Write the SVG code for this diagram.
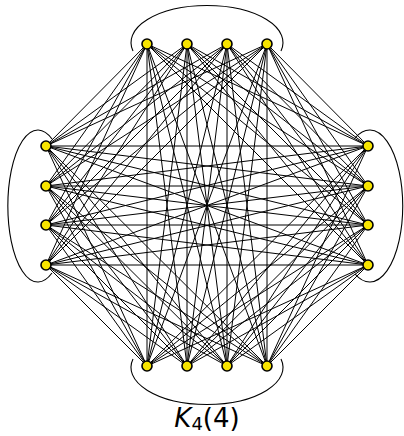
<svg xmlns="http://www.w3.org/2000/svg" width="404" height="436" viewBox="0 0 404 436">
<style>
.hull{fill:none;stroke:#000;stroke-width:1.1}
.e line{stroke:#000;stroke-width:1}
.n circle{fill:#f7e400;stroke:#000;stroke-width:1.6}
.lbl{font-family:"DejaVu Sans",sans-serif;font-size:26px;fill:#000}
</style>
<rect width="404" height="436" fill="#fff"/>
<g id="group-outlines">
<path class="hull" d="M133,51 A76,37 0 1 1 281,51"/>
<path class="hull" d="M133,359 A76,37 0 1 0 281,359"/>
<path class="hull" d="M52,139 A30,76 0 1 0 52,273"/>
<path class="hull" d="M355,138 A33,76 0 1 1 355,274"/>
</g>
<g id="connectors" class="e">
<line x1="147" y1="44" x2="46" y2="146"/><line x1="147" y1="44" x2="46" y2="186"/><line x1="147" y1="44" x2="46" y2="225"/><line x1="147" y1="44" x2="46" y2="265"/>
<line x1="187" y1="44" x2="46" y2="146"/><line x1="187" y1="44" x2="46" y2="186"/><line x1="187" y1="44" x2="46" y2="225"/><line x1="187" y1="44" x2="46" y2="265"/>
<line x1="227" y1="44" x2="46" y2="146"/><line x1="227" y1="44" x2="46" y2="186"/><line x1="227" y1="44" x2="46" y2="225"/><line x1="227" y1="44" x2="46" y2="265"/>
<line x1="267" y1="44" x2="46" y2="146"/><line x1="267" y1="44" x2="46" y2="186"/><line x1="267" y1="44" x2="46" y2="225"/><line x1="267" y1="44" x2="46" y2="265"/>
<line x1="147" y1="44" x2="368" y2="146"/><line x1="147" y1="44" x2="368" y2="186"/><line x1="147" y1="44" x2="368" y2="225"/><line x1="147" y1="44" x2="368" y2="265"/>
<line x1="187" y1="44" x2="368" y2="146"/><line x1="187" y1="44" x2="368" y2="186"/><line x1="187" y1="44" x2="368" y2="225"/><line x1="187" y1="44" x2="368" y2="265"/>
<line x1="227" y1="44" x2="368" y2="146"/><line x1="227" y1="44" x2="368" y2="186"/><line x1="227" y1="44" x2="368" y2="225"/><line x1="227" y1="44" x2="368" y2="265"/>
<line x1="267" y1="44" x2="368" y2="146"/><line x1="267" y1="44" x2="368" y2="186"/><line x1="267" y1="44" x2="368" y2="225"/><line x1="267" y1="44" x2="368" y2="265"/>
<line x1="147" y1="44" x2="147" y2="366"/><line x1="147" y1="44" x2="187" y2="366"/><line x1="147" y1="44" x2="227" y2="366"/><line x1="147" y1="44" x2="267" y2="366"/>
<line x1="187" y1="44" x2="147" y2="366"/><line x1="187" y1="44" x2="187" y2="366"/><line x1="187" y1="44" x2="227" y2="366"/><line x1="187" y1="44" x2="267" y2="366"/>
<line x1="227" y1="44" x2="147" y2="366"/><line x1="227" y1="44" x2="187" y2="366"/><line x1="227" y1="44" x2="227" y2="366"/><line x1="227" y1="44" x2="267" y2="366"/>
<line x1="267" y1="44" x2="147" y2="366"/><line x1="267" y1="44" x2="187" y2="366"/><line x1="267" y1="44" x2="227" y2="366"/><line x1="267" y1="44" x2="267" y2="366"/>
<line x1="46" y1="146" x2="368" y2="146"/><line x1="46" y1="146" x2="368" y2="186"/><line x1="46" y1="146" x2="368" y2="225"/><line x1="46" y1="146" x2="368" y2="265"/>
<line x1="46" y1="186" x2="368" y2="146"/><line x1="46" y1="186" x2="368" y2="186"/><line x1="46" y1="186" x2="368" y2="225"/><line x1="46" y1="186" x2="368" y2="265"/>
<line x1="46" y1="225" x2="368" y2="146"/><line x1="46" y1="225" x2="368" y2="186"/><line x1="46" y1="225" x2="368" y2="225"/><line x1="46" y1="225" x2="368" y2="265"/>
<line x1="46" y1="265" x2="368" y2="146"/><line x1="46" y1="265" x2="368" y2="186"/><line x1="46" y1="265" x2="368" y2="225"/><line x1="46" y1="265" x2="368" y2="265"/>
<line x1="46" y1="146" x2="147" y2="366"/><line x1="46" y1="146" x2="187" y2="366"/><line x1="46" y1="146" x2="227" y2="366"/><line x1="46" y1="146" x2="267" y2="366"/>
<line x1="46" y1="186" x2="147" y2="366"/><line x1="46" y1="186" x2="187" y2="366"/><line x1="46" y1="186" x2="227" y2="366"/><line x1="46" y1="186" x2="267" y2="366"/>
<line x1="46" y1="225" x2="147" y2="366"/><line x1="46" y1="225" x2="187" y2="366"/><line x1="46" y1="225" x2="227" y2="366"/><line x1="46" y1="225" x2="267" y2="366"/>
<line x1="46" y1="265" x2="147" y2="366"/><line x1="46" y1="265" x2="187" y2="366"/><line x1="46" y1="265" x2="227" y2="366"/><line x1="46" y1="265" x2="267" y2="366"/>
<line x1="368" y1="146" x2="147" y2="366"/><line x1="368" y1="146" x2="187" y2="366"/><line x1="368" y1="146" x2="227" y2="366"/><line x1="368" y1="146" x2="267" y2="366"/>
<line x1="368" y1="186" x2="147" y2="366"/><line x1="368" y1="186" x2="187" y2="366"/><line x1="368" y1="186" x2="227" y2="366"/><line x1="368" y1="186" x2="267" y2="366"/>
<line x1="368" y1="225" x2="147" y2="366"/><line x1="368" y1="225" x2="187" y2="366"/><line x1="368" y1="225" x2="227" y2="366"/><line x1="368" y1="225" x2="267" y2="366"/>
<line x1="368" y1="265" x2="147" y2="366"/><line x1="368" y1="265" x2="187" y2="366"/><line x1="368" y1="265" x2="227" y2="366"/><line x1="368" y1="265" x2="267" y2="366"/>
</g>
<g class="n">
<g id="t1"><circle cx="147" cy="44" r="5"/></g>
<g id="t2"><circle cx="187" cy="44" r="5"/></g>
<g id="t3"><circle cx="227" cy="44" r="5"/></g>
<g id="t4"><circle cx="267" cy="44" r="5"/></g>
<g id="l1"><circle cx="46" cy="146" r="5"/></g>
<g id="l2"><circle cx="46" cy="186" r="5"/></g>
<g id="l3"><circle cx="46" cy="225" r="5"/></g>
<g id="l4"><circle cx="46" cy="265" r="5"/></g>
<g id="r1"><circle cx="368" cy="146" r="5"/></g>
<g id="r2"><circle cx="368" cy="186" r="5"/></g>
<g id="r3"><circle cx="368" cy="225" r="5"/></g>
<g id="r4"><circle cx="368" cy="265" r="5"/></g>
<g id="b1"><circle cx="147" cy="366" r="5"/></g>
<g id="b2"><circle cx="187" cy="366" r="5"/></g>
<g id="b3"><circle cx="227" cy="366" r="5"/></g>
<g id="b4"><circle cx="267" cy="366" r="5"/></g>
</g>
<text class="lbl" x="207" y="427" text-anchor="middle"><tspan font-style="italic">K</tspan><tspan font-size="18" dy="3">4</tspan><tspan dy="-3">(4)</tspan></text>
</svg>
